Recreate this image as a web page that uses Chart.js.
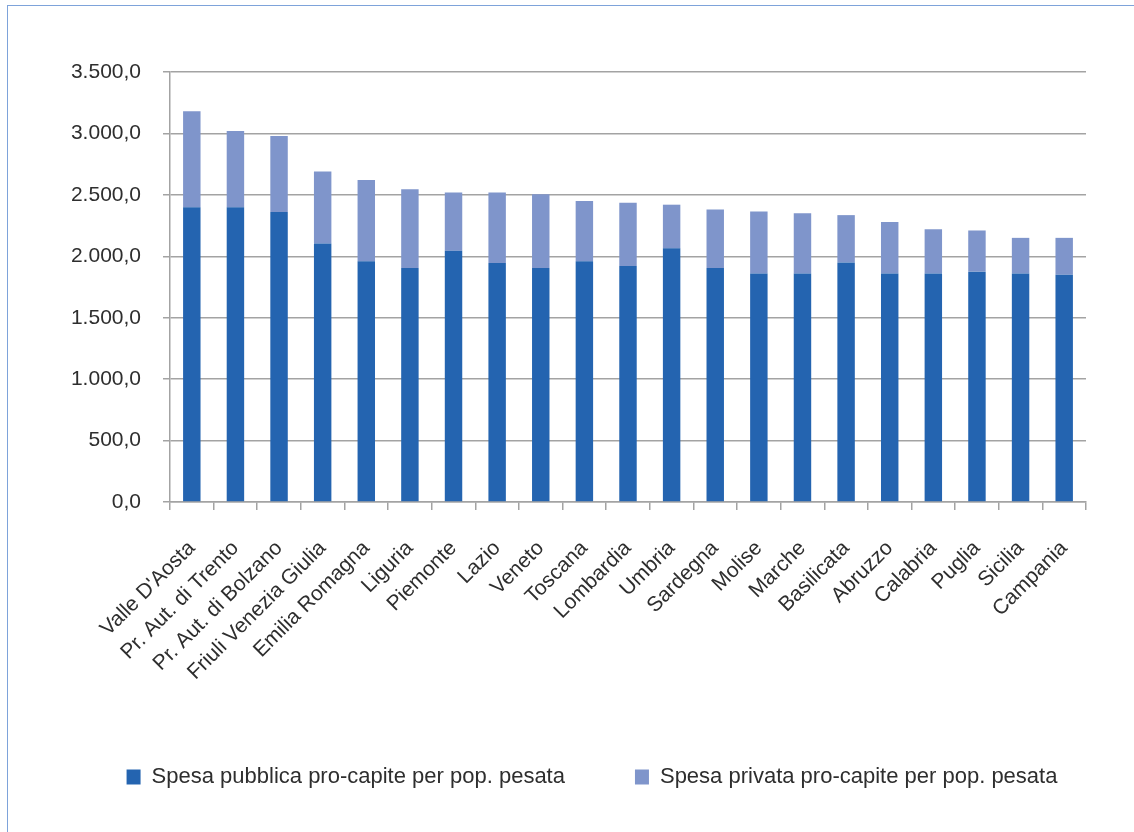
<!DOCTYPE html>
<html>
<head>
<meta charset="utf-8">
<script src="https://cdn.jsdelivr.net/npm/chart.js@4"></script>
<style>
    body { margin: 0; background: #fff; }
    #wrap { position: relative; width: 1134px; height: 832px; }
    #frame { position: absolute; left: 7px; top: 5px; right: 0; bottom: 0;
        border-left: 1px solid #7ea3da; border-top: 1px solid #7ea3da; }
    canvas { position: absolute; left: 0; top: 0; }
</style>
</head>
<body>
<div id="wrap">
    <div id="frame"></div>
    <canvas id="spesa-chart" width="1134" height="832"></canvas>
</div>
<script>
const regioni = ["Valle D'Aosta", 'Pr. Aut. di Trento', 'Pr. Aut. di Bolzano', 'Friuli Venezia Giulia',
    'Emilia Romagna', 'Liguria', 'Piemonte', 'Lazio', 'Veneto', 'Toscana', 'Lombardia', 'Umbria',
    'Sardegna', 'Molise', 'Marche', 'Basilicata', 'Abruzzo', 'Calabria', 'Puglia', 'Sicilia', 'Campania'];
const spesaPubblica = [2400, 2400, 2360, 2105, 1960, 1905, 2045, 1945, 1905, 1960, 1920, 2065,
    1905, 1860, 1860, 1950, 1860, 1860, 1875, 1860, 1850];
const spesaPrivata = [780, 620, 620, 585, 660, 640, 475, 575, 600, 490, 515, 355,
    475, 505, 490, 385, 420, 360, 335, 290, 300];
const yTicks = [0, 500, 1000, 1500, 2000, 2500, 3000, 3500];

// 3500 -> "3.500,0"
function formatIt(v) {
    const parts = v.toFixed(1).split('.');
    return parts[0].replace(/\B(?=(\d{3})+(?!\d))/g, '.') + ',' + parts[1];
}

// the legend in the original sits a bit right of the centre
const spostaLegenda = {
    id: 'spostaLegenda',
    afterLayout(chart) {
        chart.legend.left += 45;
        chart.legend.right += 45;
    }
};

const grigio = '#a3a3a3';
Chart.defaults.font.family = "'Liberation Sans', Arial, sans-serif";
Chart.defaults.color = '#2e2e2e';

new Chart(document.getElementById('spesa-chart'), {
    type: 'bar',
    data: {
        labels: regioni,
        datasets: [{
            label: 'Spesa pubblica pro-capite per pop. pesata',
            data: spesaPubblica,
            backgroundColor: '#2464b0'
        }, {
            label: 'Spesa privata pro-capite per pop. pesata',
            data: spesaPrivata,
            backgroundColor: '#7f95cb'
        }]
    },
    plugins: [spostaLegenda],
    options: {
        responsive: false,
        animation: false,
        layout: { padding: { left: 8, top: 72, right: 48, bottom: 34 } },
        datasets: { bar: { barPercentage: 0.4, categoryPercentage: 1 } },
        plugins: {
            tooltip: { enabled: false },
            legend: {
                position: 'bottom',
                labels: { boxWidth: 14, boxHeight: 15, padding: 70, font: { size: 22 } }
            }
        },
        scales: {
            x: {
                stacked: true,
                afterFit: s => { s.height = 194; },
                grid: { drawOnChartArea: false, color: grigio, lineWidth: 1.5, tickLength: 8 },
                border: { color: grigio, width: 1.5 },
                ticks: { minRotation: 45, maxRotation: 45, autoSkip: false, padding: 26, font: { size: 21 } }
            },
            y: {
                stacked: true,
                min: 0,
                max: 3500,
                afterFit: s => { s.width = 162; },
                afterBuildTicks: s => { s.ticks = yTicks.map(v => ({ value: v })); },
                grid: { color: grigio, lineWidth: 1.5, tickLength: 7 },
                border: { color: grigio, width: 1.5 },
                ticks: { padding: 22, font: { size: 21 }, callback: v => formatIt(v) }
            }
        }
    }
});
</script>
</body>
</html>
